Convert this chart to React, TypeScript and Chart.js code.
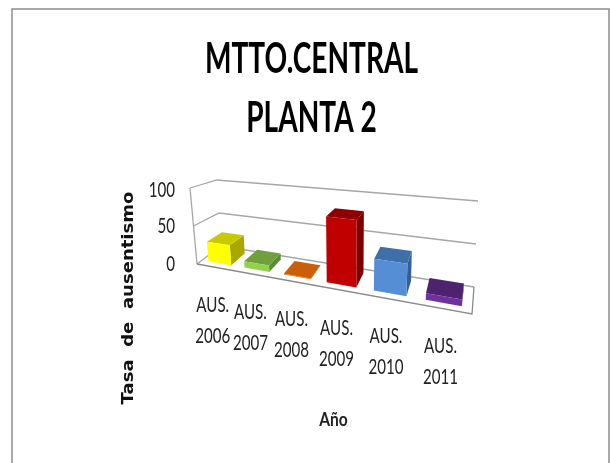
import React, { useEffect, useRef } from "react";
import { Chart, registerables } from "chart.js";

Chart.register(...registerables);

const categories = ["AUS. 2006", "AUS. 2007", "AUS. 2008", "AUS. 2009", "AUS. 2010", "AUS. 2011"];
const values = [26, 8, 1, 78, 36, 7];
const yTicks = [0, 50, 100];
const titleLines = ["MTTO.CENTRAL", "PLANTA 2"];
const yTitle = "Tasa  de  ausentismo";
const xTitle = "Año";
const frontColors = ["#FFFF00", "#92D050", "#E36C09", "#C00000", "#558ED5", "#7030A0"];
const topColors = ["#C9C900", "#6FA03C", "#C95F08", "#8F0000", "#3F6FA8", "#4F2270"];
const sideColors = ["#A8A800", "#5E8A33", "#A85006", "#7A0000", "#376092", "#3F1B5A"];

const SANS = "Lato, 'Liberation Sans', sans-serif";

type P = [number, number];
const FBL: P = [197, 264], FBR: P = [472, 314], FTL: P = [190, 188], FTR: P = [478, 215];
const BBL: P = [221, 246], BBR: P = [474, 287], BTL: P = [217, 180], BTR: P = [478, 201];
const K = 0.32;
const bend = (u: number) => u / (1 + K * (1 - u));
const mix = (a: P, b: P, t: number): P => [a[0] + (b[0] - a[0]) * t, a[1] + (b[1] - a[1]) * t];
const project = (u: number, v: number, w: number): P => {
  const f = bend(u);
  const front = mix(mix(FBL, FBR, f), mix(FTL, FTR, f), v);
  const back = mix(mix(BBL, BBR, f), mix(BTL, BTR, f), v);
  return mix(front, back, w);
};

const poly = (ctx: CanvasRenderingContext2D, pts: P[], fill?: string, stroke?: string) => {
  ctx.beginPath();
  pts.forEach((p, i) => (i ? ctx.lineTo(p[0], p[1]) : ctx.moveTo(p[0], p[1])));
  if (fill) {
    ctx.closePath();
    ctx.fillStyle = fill;
    ctx.fill();
  }
  if (stroke) {
    ctx.strokeStyle = stroke;
    ctx.stroke();
  }
};

// Real text, squeezed horizontally to the reference's narrow face.
const label = (
  ctx: CanvasRenderingContext2D,
  text: string,
  x: number,
  y: number,
  font: string,
  sx: number,
  align: CanvasTextAlign = "center",
  color = "#222",
) => {
  ctx.save();
  ctx.translate(x, y);
  ctx.scale(sx, 1);
  ctx.font = font;
  ctx.fillStyle = color;
  ctx.textAlign = align;
  ctx.textBaseline = "middle";
  ctx.fillText(text, 0, 0);
  ctx.restore();
};

const scene = {
  id: "scene",
  beforeDraw(chart: any) {
    const { ctx, chartArea: a, scales } = chart;
    ctx.save();
    ctx.fillStyle = "#fff";
    ctx.fillRect(0, 0, 610, 463);
    ctx.strokeStyle = "#8c8c8c";
    ctx.lineWidth = 1.5;
    ctx.strokeRect(12, 9, 597, 500);
    const vOf = (val: number) => (a.bottom - scales.y.getPixelForValue(val)) / (a.bottom - a.top);
    ctx.lineWidth = 1.3;
    scales.y.ticks.forEach((t: any) => {
      const v = vOf(t.value);
      poly(ctx, [project(0, v, 0), project(0, v, 1), project(1, v, 1)], undefined, "#a6a6a6");
      label(ctx, String(t.value), a.left - 22, scales.y.getPixelForValue(t.value) + (t.value === 100 ? 2 : 0), `21px ${SANS}`, 0.72, "right");
    });
    poly(ctx, [project(0, 1, 0), project(0, 0, 0)], undefined, "#a6a6a6");
    poly(ctx, [project(0, 0, 0), project(1, 0, 0), project(1, 0, 1)], undefined, "#8a8a8a");

    // chart title
    const titleFont = `bold 42px ${SANS}`;
    ctx.font = titleFont;
    const sx = 213 / ctx.measureText(titleLines[0]).width;
    titleLines.forEach((s, i) => label(ctx, s, 311.5, 59 + i * 59, titleFont, sx, "center", "#000"));
    ctx.restore();
  },
  beforeDatasetsDraw(chart: any) {
    const { ctx, chartArea: a, scales } = chart;
    const meta = chart.getDatasetMeta(0);
    const U = (x: number) => (x - a.left) / (a.right - a.left);
    const V = (y: number) => (a.bottom - y) / (a.bottom - a.top);
    const w0 = 0.22, w1 = 0.84;
    ctx.save();
    meta.data.forEach((el: any, i: number) => {
      const l = U(el.x - el.width / 2), r = U(el.x + el.width / 2);
      const t = V(el.y), b = V(el.base);
      poly(ctx, [project(r, b, w0), project(r, b, w1), project(r, t, w1), project(r, t, w0)], sideColors[i]);
      poly(ctx, [project(l, t, w0), project(r, t, w0), project(r, t, w1), project(l, t, w1)], topColors[i]);
      poly(ctx, [project(l, b, w0), project(r, b, w0), project(r, t, w0), project(l, t, w0)], frontColors[i]);
    });
    meta.data.forEach((el: any, i: number) => {
      const p = project(U(el.x), 0, 0);
      const lines = String(scales.x.getLabels()[i]).split(" ");
      lines.forEach((s, j) => label(ctx, s, p[0] - 2, p[1] + 38 + j * 31, `21px ${SANS}`, 0.72));
    });
    // axis titles
    label(ctx, xTitle, a.left + (a.right - a.left) / 2 - 1, 420, `bold 19px ${SANS}`, 0.82);
    ctx.translate(129, 298);
    ctx.rotate(-Math.PI / 2);
    const font = "bold 15px 'DejaVu Sans', sans-serif";
    ctx.font = font;
    const w = ctx.measureText(yTitle).width;
    label(ctx, yTitle, 0, 0, font, 213 / w, "center", "#111");
    ctx.restore();
    return false;
  },
};

export default function App() {
  const ref = useRef<HTMLCanvasElement>(null);
  useEffect(() => {
    document.body.style.margin = "0";
    const chart = new Chart(ref.current!, {
      type: "bar",
      data: {
        labels: categories,
        datasets: [{ data: values, backgroundColor: frontColors, categoryPercentage: 0.8, barPercentage: 0.8 }],
      },
      options: {
        responsive: false,
        animation: false,
        layout: { autoPadding: false, padding: { left: 150, right: 138, top: 188, bottom: 199 } },
        plugins: {
          legend: { display: false },
          tooltip: { enabled: false },
          title: { display: false },
        },
        scales: {
          x: {
            grid: { display: false },
            border: { display: false },
            ticks: { display: false },
            afterFit: (s: any) => { s.height = 0; },
          },
          y: {
            min: 0,
            max: 100,
            grid: { display: false },
            border: { display: false },
            afterFit: (s: any) => { s.width = 47; },
            afterBuildTicks: (s: any) => { s.ticks = yTicks.map((value) => ({ value })); },
            ticks: { display: false },
          },
        },
      },
      plugins: [scene],
    } as any);
    return () => chart.destroy();
  }, []);
  return <canvas ref={ref} width={610} height={463} style={{ display: "block", filter: "blur(0.5px)" }} />;
}
